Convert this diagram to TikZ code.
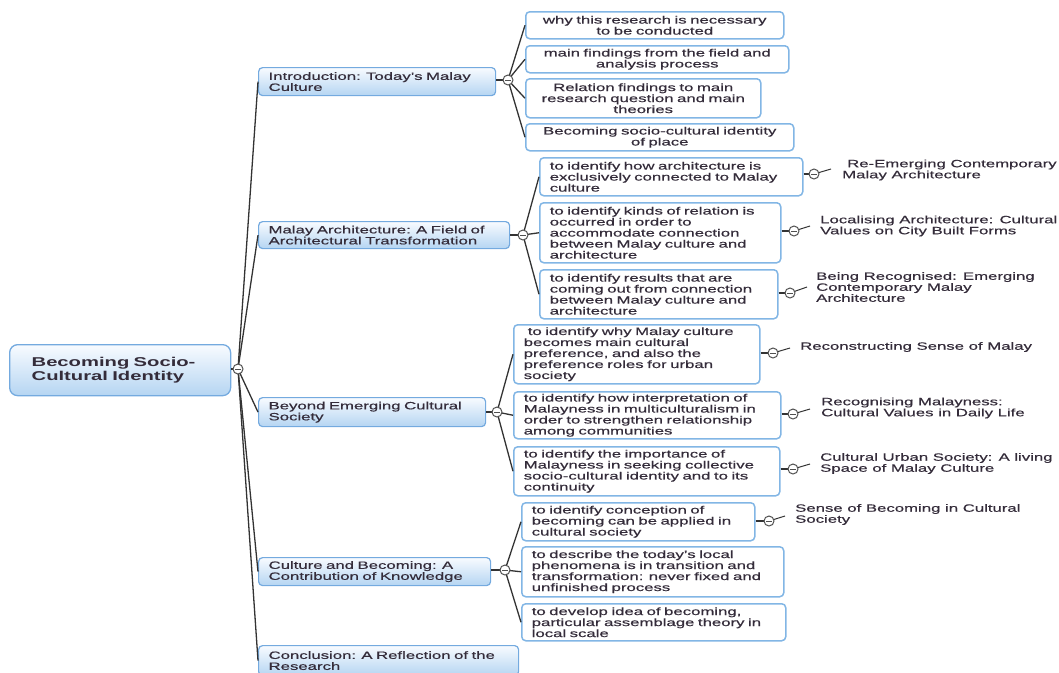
\documentclass[tikz,border=0pt]{standalone}
\usepackage{fontspec}
\setmainfont{Liberation Sans}[FakeStretch=1.58, UprightFeatures={FakeBold=0.5}]
\definecolor{ink}{HTML}{342C3A}
\definecolor{wire}{HTML}{333333}
\definecolor{knobc}{HTML}{505050}
\definecolor{leafedge}{HTML}{82B6E5}
\definecolor{topicedge}{HTML}{74AADF}
\definecolor{topictop}{HTML}{F8FBFF}
\definecolor{topicbot}{HTML}{B5D5F2}
\newcommand\mapfont{\fontsize{10.6pt}{11pt}\selectfont}
\newcommand\rootfont{\fontsize{12.8pt}{14pt}\selectfont\bfseries}
\begin{document}
\begin{tikzpicture}[x=1pt,y=-1pt,
  boxbase/.style={draw, rounded corners=4pt, anchor=north west, inner xsep=10pt,
    inner ysep=1pt, align=left, font=\mapfont, text=ink},
  rootbox/.style={boxbase, font=\rootfont, inner xsep=22pt, rounded corners=8pt,
    draw=topicedge, line width=1.3pt, top color=topictop, bottom color=topicbot},
  topic/.style={boxbase, draw=topicedge, line width=1.2pt, top color=topictop, bottom color=topicbot},
  leaf/.style={boxbase, draw=leafedge, line width=1.5pt, fill=white},
  knob/.style={circle, draw=knobc, fill=white, line width=1pt, minimum size=10pt, inner sep=0pt,
    path picture={\draw[knobc, line width=0.9pt]
      ([xshift=-2.6pt]path picture bounding box.center) -- ([xshift=2.6pt]path picture bounding box.center);}},
  link/.style={draw=wire, line width=1.3pt},
  tailline/.style={draw=wire, line width=1pt},
  tag/.style={anchor=west, inner sep=0pt, align=left, font=\mapfont, text=ink}]

\useasboundingbox (0,0) rectangle (1059,672);

% root
\node[rootbox, text width=177pt, minimum height=51pt] (root) at (9,344) {Becoming Socio-\\Cultural Identity};

% main topics
\node[topic, text width=217pt, minimum height=28pt] (intro) at (258,67) {Introduction: Today's Malay\\Culture};
\node[topic, text width=231pt, minimum height=27pt] (arch) at (258,221) {Malay Architecture: A Field of\\Architectural Transformation};
\node[topic, text width=207pt, minimum height=29pt] (beyond) at (258,397) {Beyond Emerging Cultural\\Society};
\node[topic, text width=212pt, minimum height=28pt] (becom) at (258,557) {Culture and Becoming: A\\Contribution of Knowledge};
\node[topic, text width=240pt, minimum height=30pt] (concl) at (258,645) {Conclusion: A Reflection of the\\Research};

% introduction
\node[leaf, align=center, text width=238pt, minimum height=27pt] (i1) at (525,11) {why this research is necessary\\to be conducted};
\node[leaf, align=center, text width=243pt, minimum height=27pt] (i2) at (525,45) {main findings from the field and\\analysis process};
\node[leaf, align=center, text width=215pt, minimum height=39pt] (i3) at (525,78) {Relation findings to main\\research question and main\\theories};
\node[leaf, align=center, text width=248pt, minimum height=27pt] (i4) at (525,123) {Becoming socio-cultural identity\\of place};

% malay architecture
\node[leaf, text width=243pt, minimum height=38pt] (a1) at (539,157) {to identify how architecture is\\exclusively connected to Malay\\culture};
\node[leaf, text width=221pt, minimum height=60pt] (a2) at (539,202) {to identify kinds of relation is\\occurred in order to\\accommodate connection\\between Malay culture and\\architecture};
\node[leaf, text width=218pt, minimum height=49pt] (a3) at (539,269) {to identify results that are\\coming out from connection\\between Malay culture and\\architecture};

% beyond emerging cultural society
\node[leaf, text width=226pt, minimum height=59pt] (b1) at (513,324) {\hspace*{4pt}to identify why Malay culture\\becomes main cultural\\preference, and also the\\preference roles for urban\\society};
\node[leaf, text width=247pt, minimum height=47pt] (b2) at (513,391) {to identify how interpretation of\\Malayness in multiculturalism in\\order to strengthen relationship\\among communities};
\node[leaf, text width=246pt, minimum height=49pt] (b3) at (513,446) {to identify the importance of\\Malayness in seeking collective\\socio-cultural identity and to its\\continuity};

% culture and becoming
\node[leaf, text width=213pt, minimum height=38pt] (c1) at (521,502) {to identify conception of\\becoming can be applied in\\cultural society};
\node[leaf, text width=242pt, minimum height=50pt] (c2) at (521,546) {to describe the today's local\\phenomena is in transition and\\transformation: never fixed and\\unfinished process};
\node[leaf, text width=244pt, minimum height=37pt] (c3) at (521,603) {to develop idea of becoming,\\particular assemblage theory in\\local scale};

% chapter titles
\node[tag] (a1l) at (842,170) {\hspace*{5pt}Re-Emerging Contemporary\\Malay Architecture};
\node[tag] (a2l) at (820,226) {Localising Architecture: Cultural\\Values on City Built Forms};
\node[tag] (a3l) at (816,287) {Being Recognised: Emerging\\Contemporary Malay\\Architecture};
\node[tag] (b1l) at (800,347) {Reconstructing Sense of Malay};
\node[tag] (b2l) at (821,408) {Recognising Malayness:\\Cultural Values in Daily Life};
\node[tag] (b3l) at (820,463.5) {Cultural Urban Society: A living\\Space of Malay Culture};
\node[tag] (c1l) at (795,514.5) {Sense of Becoming in Cultural\\Society};

% tail ends beside the chapter knobs
\coordinate (a1t) at (831,169);
\coordinate (a2t) at (810,226);
\coordinate (a3t) at (807,287);
\coordinate (b1t) at (790,348);
\coordinate (b2t) at (810,409);
\coordinate (b3t) at (810,464);
\coordinate (c1t) at (785,516);

% wires (drawn before the knobs so the knobs sit on top)
\coordinate (rkc) at (238,369);
\coordinate (ikc) at (508,80);
\coordinate (akc) at (523,235);
\coordinate (bkc) at (497,412);
\coordinate (ckc) at (505,570);
\coordinate (a1kc) at (814,174);
\coordinate (a2kc) at (794,231);
\coordinate (a3kc) at (790,293);
\coordinate (b1kc) at (773,353);
\coordinate (b2kc) at (793,414);
\coordinate (b3kc) at (793,469);
\coordinate (c1kc) at (769,521);

\path[link] (root.east |- rkc) -- (rkc);
\foreach \t in {intro,arch,beyond,becom,concl} \path[link] (rkc) -- (\t.west);
\path[link] (intro.east |- ikc) -- (ikc);
\path[link] (arch.east |- akc) -- (akc);
\path[link] (beyond.east |- bkc) -- (bkc);
\path[link] (becom.east |- ckc) -- (ckc);
\foreach \t in {i1,i2,i3,i4} \path[link] (ikc) -- (\t.west);
\foreach \t in {a1,a2,a3} \path[link] (akc) -- (\t.west);
\foreach \t in {b1,b2,b3} \path[link] (bkc) -- (\t.west);
\foreach \t in {c1,c2,c3} \path[link] (ckc) -- (\t.west);
\foreach \t in {a1,a2,a3,b1,b2,b3,c1} {
  \path[link] (\t.east |- \t kc) -- (\t kc);
  \path[tailline] (\t kc) -- (\t t);
}

% collapse knobs
\foreach \k in {rk,ik,ak,bk,ck,a1k,a2k,a3k,b1k,b2k,b3k,c1k}
  \node[knob] (\k) at (\k c) {};
\end{tikzpicture}
\end{document}
